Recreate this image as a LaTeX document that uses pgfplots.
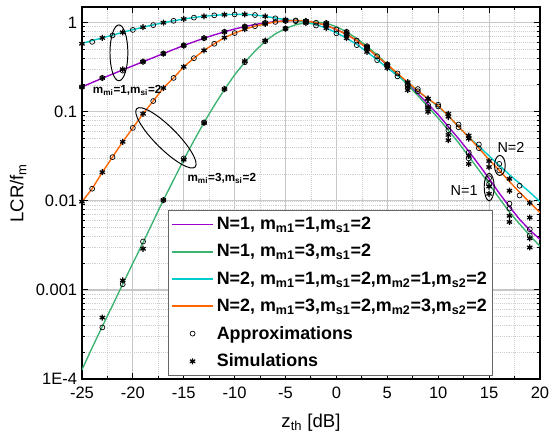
\documentclass[border=0pt]{standalone}
\usepackage{fontspec}
\setmainfont{Liberation Sans}
\usepackage{pgfplots}
\usepackage{pgfplotstable}
\pgfplotsset{compat=1.18}
\usetikzlibrary{shapes.geometric}
\definecolor{cpurple}{RGB}{153,0,204}
\definecolor{cgreen}{RGB}{60,179,113}
\definecolor{ccyan}{RGB}{0,204,204}
\definecolor{corange}{RGB}{255,102,0}
\pgfplotsset{
  lineleg/.style={legend image code/.code={\draw[##1, line width=1.25pt] (0pt,0pt) -- (30pt,0pt);}},
  markleg/.style={legend image code/.code={\draw[mark repeat=2,mark phase=2,##1] plot coordinates {(0pt,0pt)(15pt,0pt)(30pt,0pt)};}},
}

% curves: x  purple(N=1,m=1)  green(N=1,m=3)  cyan(N=2,m=1)  orange(N=2,m=3)
\pgfplotstableread{
x   pu      gr       cy      or
-25 0.19    1.27e-4  0.585   0.0098
-24 0.213   2.25e-4  0.63    0.0137
-23 0.238   3.9e-4   0.675   0.021
-22 0.265   6.7e-4   0.725   0.031
-21 0.295   1.16e-3  0.78    0.046
-20 0.328   2.0e-3   0.835   0.066
-19 0.365   3.4e-3   0.89    0.095
-18 0.405   5.9e-3   0.945   0.132
-17 0.45    0.0102   1.0     0.185
-16 0.50    0.0172   1.05    0.24
-15 0.555   0.0290   1.10    0.32
-14 0.61    0.0475   1.145   0.40
-13 0.67    0.076    1.18    0.49
-12 0.73    0.118    1.21    0.58
-11 0.79    0.178    1.23    0.68
-10 0.85    0.26     1.24    0.765
-9  0.905   0.36     1.24    0.845
-8  0.955   0.48     1.22    0.915
-7  0.995   0.62     1.18    0.97
-6  1.03    0.75     1.13    1.02
-5  1.05    0.86     1.08    1.05
-4  1.055   0.95     1.05    1.06
-3  1.04    1.0      1.01    1.045
-2  1.0     1.02     0.95    1.0
-1  0.935   0.99     0.87    0.935
0   0.84    0.90     0.77    0.84
1   0.74    0.79     0.67    0.74
2   0.63    0.665    0.57    0.63
3   0.52    0.545    0.47    0.52
4   0.42    0.435    0.385   0.42
5   0.335   0.34     0.31    0.34
6   0.265   0.262    0.255   0.27
7   0.207   0.20     0.21    0.215
8   0.16    0.152    0.17    0.172
9   0.122   0.114    0.14    0.14
10  0.093   0.085    0.115   0.117
11  0.068   0.062    0.09    0.09
12  0.05    0.045    0.068   0.068
13  0.036   0.0315   0.052   0.052
14  0.0255  0.0222   0.041   0.039
15  0.0178  0.0155   0.032   0.029
16  0.0122  0.0107   0.025   0.022
17  0.0086  0.0075   0.0197  0.0165
18  0.0062  0.0055   0.0157  0.0125
19  0.0047  0.0041   0.0125  0.0096
20  0.0037  0.0031   0.0098  0.0074
}\curves

% approximations (circles)
\pgfplotstableread{
x   y
-25 0.19
-23 0.24
-21 0.29
-19 0.365
-17 0.45
-15 0.555
-13 0.67
-11 0.79
-9  0.905
-7  0.995
-5  1.05
-3  1.04
-1  0.935
1   0.74
3   0.52
5   0.335
7   0.20
9   0.12
11  0.068
13  0.035
15  0.018
17  0.0093
19  0.0048
-23 3.8e-4
-21 1.16e-3
-19 3.5e-3
-17 0.0102
-15 0.030
-13 0.076
-11 0.18
-9  0.36
-7  0.62
-5  0.86
-3  1.0
-1  0.99
1   0.79
3   0.545
5   0.34
7   0.195
9   0.11
11  0.062
13  0.030
15  0.0155
17  0.0082
19  0.0041
-24 0.61
-22 0.72
-20 0.83
-18 0.94
-16 1.05
-14 1.14
-12 1.21
-10 1.24
-8  1.22
-6  1.12
-4  1.04
-2  0.93
0   0.76
2   0.56
4   0.38
6   0.25
8   0.17
10  0.115
12  0.072
14  0.043
16  0.026
18  0.0148
-24 0.0137
-22 0.031
-20 0.066
-18 0.132
-16 0.24
-14 0.40
-12 0.58
-10 0.765
-8  0.915
-6  1.02
-4  1.06
-2  1.0
0   0.84
2   0.63
4   0.42
6   0.27
8   0.18
10  0.12
12  0.067
14  0.039
16  0.022
18  0.0115
}\approx

% simulations (asterisks)
\pgfplotstableread{
x   y
-25 0.19
-23 0.24
-21 0.30
-19 0.365
-17 0.45
-15 0.555
-13 0.67
-11 0.79
-9  0.905
-7  0.995
-5  1.05
-3  1.04
-1  0.935
1   0.74
3   0.52
5   0.33
7   0.19
9   0.112
11  0.055
13  0.032
15  0.0145
17  0.0068
19  0.0038
-23 4.9e-4
-21 1.28e-3
-19 2.9e-3
-17 0.0102
-15 0.029
-13 0.075
-11 0.18
-9  0.37
-7  0.63
-5  0.86
-3  1.0
-1  0.99
1   0.79
3   0.54
5   0.33
7   0.175
9   0.10
11  0.048
13  0.026
15  0.012
17  0.0058
19  0.0030
-25 0.58
-23 0.675
-21 0.78
-19 0.89
-17 1.0
-15 1.10
-13 1.18
-11 1.23
-9  1.24
-7  1.18
-5  1.08
-3  1.01
-1  0.87
1   0.67
3   0.47
5   0.31
7   0.21
9   0.14
11  0.095
13  0.054
15  0.028
17  0.0177
19  0.0095
-25 0.0098
-23 0.021
-21 0.046
-19 0.095
-17 0.185
-15 0.32
-13 0.49
-11 0.68
-9  0.845
-7  0.97
-5  1.05
-3  1.045
-1  0.935
1   0.74
3   0.52
5   0.34
7   0.215
9   0.14
11  0.088
13  0.050
15  0.024
17  0.013
19  0.0065
}\sims

\begin{document}
\begin{tikzpicture}
\begin{axis}[
  scale only axis, width=333pt, height=270.5pt,
  ymode=log, xmin=-25, xmax=20, ymin=1e-4, ymax=1.5,
  xtick={-25,-20,...,20}, minor x tick num=1,
  ytick={1e-4,1e-3,1e-2,1e-1,1}, yticklabels={1E-4,0.001,0.01,0.1,1},
  tick align=inside, major tick length=4.5pt, minor tick length=2.5pt,
  grid=both,
  major grid style={black!22, line width=0.8pt},
  minor grid style={black!18, densely dotted, line width=0.5pt},
  axis line style={line width=1pt},
  every tick/.style={black, line width=0.7pt},
  tick label style={font=\fontsize{12}{14}\selectfont},
  xticklabel style={yshift=-2.5pt},
  /pgf/number format/assume math mode=true,
  xlabel={z\textsubscript{th} [dB]}, ylabel={LCR/f\textsubscript{m}},
  label style={font=\fontsize{13.5}{16}\selectfont},
  xlabel style={yshift=-4pt},
  legend style={at={(0.188,0.454)}, anchor=north west,
    font=\bfseries\fontsize{13}{15}\selectfont, draw=black!60,
    row sep=5.2pt, inner xsep=2pt, inner ysep=3pt},
  legend cell align=left,
]
\addplot[cpurple, line width=1pt, lineleg] table[x=x, y=pu] {\curves};
\addlegendentry{N=1, m\textsubscript{m1}=1,m\textsubscript{s1}=2}
\addplot[cgreen, line width=1pt, lineleg] table[x=x, y=gr] {\curves};
\addlegendentry{N=1, m\textsubscript{m1}=3,m\textsubscript{s1}=2}
\addplot[ccyan, line width=1pt, lineleg] table[x=x, y=cy] {\curves};
\addlegendentry{N=2, m\textsubscript{m1}=1,m\textsubscript{s1}=2,m\textsubscript{m2}=1,m\textsubscript{s2}=2}
\addplot[corange, line width=1pt, lineleg] table[x=x, y=or] {\curves};
\addlegendentry{N=2, m\textsubscript{m1}=3,m\textsubscript{s1}=2,m\textsubscript{m2}=3,m\textsubscript{s2}=2}
\addplot[only marks, mark=o, mark size=1.8pt, black, line width=0.5pt, markleg] table[x=x, y=y] {\approx};
\addlegendentry{Approximations}
\addplot[only marks, mark=asterisk, mark size=2.2pt, black, line width=0.9pt, markleg] table[x=x, y=y] {\sims};
\addlegendentry{Simulations}

\node[draw=black, ellipse, line width=0.7pt, minimum width=13pt, minimum height=40.6pt, inner sep=0pt] at (axis cs:-21.37,0.459) {};
\node[anchor=west, font=\bfseries\fontsize{8.5}{10}\selectfont] at (axis cs:-24.4,0.172) {m\textsubscript{mi}=1,m\textsubscript{si}=2};
\node[draw=black, ellipse, line width=0.7pt, minimum width=60pt, minimum height=16pt, inner sep=0pt, rotate=-45] at (axis cs:-16.75,0.051) {};
\node[anchor=west, font=\bfseries\fontsize{8.5}{10}\selectfont] at (axis cs:-15.1,0.018) {m\textsubscript{mi}=3,m\textsubscript{si}=2};
\node[draw=black, ellipse, line width=0.7pt, minimum width=7.8pt, minimum height=14.6pt, inner sep=0pt] at (axis cs:16.06,0.025) {};
\node[anchor=west, font=\fontsize{10.5}{12}\selectfont] at (axis cs:15.35,0.04) {N=2};
\node[draw=black, ellipse, line width=0.7pt, minimum width=7.2pt, minimum height=20pt, inner sep=0pt] at (axis cs:15.01,0.0143) {};
\node[anchor=east, font=\fontsize{10.5}{12}\selectfont] at (axis cs:14.35,0.013) {N=1};

\coordinate (SW) at (rel axis cs:0,0);
\coordinate (NE) at (rel axis cs:1,1);
\end{axis}
\pgfresetboundingbox
\path ([shift={(-59.6pt,-40.7pt)}]SW) rectangle ([shift={(7.3pt,5.1pt)}]NE);
\end{tikzpicture}
\end{document}
